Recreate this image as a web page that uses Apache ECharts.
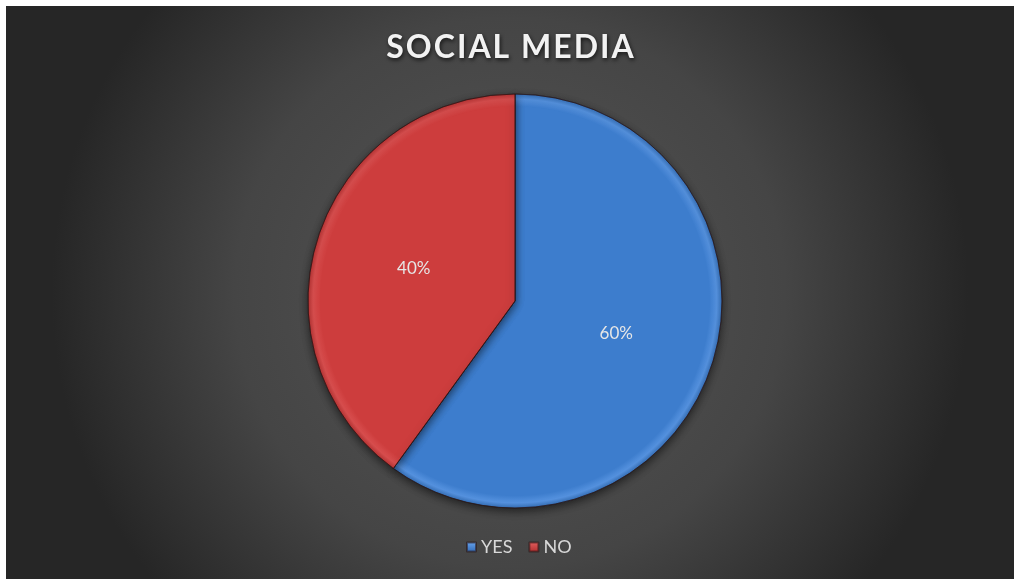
<!DOCTYPE html>
<html>
<head>
<meta charset="utf-8">
<script src="https://cdn.jsdelivr.net/npm/echarts@6/dist/echarts.min.js"></script>
<style>
  html, body { margin: 0; padding: 0; background: #ffffff; }
  #chart { position: absolute; left: 6px; top: 6px; width: 1008px; height: 573px; }
</style>
</head>
<body>
<div id="chart"></div>
<script>
// Survey answers: does the respondent use social media?
const categories = ['YES', 'NO'];
const shares = [60, 40];
const chartTitle = 'SOCIAL MEDIA';

// Pie geometry in canvas pixels (shared by the slices and their rim gradient)
const pieCenter = [509, 295];
const pieRadius = 207;

// Bevelled slice fill: flat body with a lighter rim and darker outer edge,
// laid out in global coordinates so every slice shares one ring
function bevel(body, rim, edge) {
  return {
    type: 'radial', global: true,
    x: pieCenter[0], y: pieCenter[1], r: pieRadius,
    colorStops: [
      { offset: 0, color: body },
      { offset: 0.94, color: body },
      { offset: 0.975, color: rim },
      { offset: 1, color: edge }
    ]
  };
}
const sliceColors = [
  bevel('#3d7dcd', '#5592df', '#3670b8'),
  bevel('#cd3d3d', '#d84e4e', '#b83434')
];
const iconColors = [
  { type: 'linear', x: 0, y: 0, x2: 0, y2: 1, colorStops: [{ offset: 0, color: '#6aa6f0' }, { offset: 1, color: '#2f68b4' }] },
  { type: 'linear', x: 0, y: 0, x2: 0, y2: 1, colorStops: [{ offset: 0, color: '#e56262' }, { offset: 1, color: '#b02c2c' }] }
];

const chart = echarts.init(document.getElementById('chart'), null, { renderer: 'canvas' });
chart.setOption({
  backgroundColor: {
    type: 'radial', x: 0.5, y: 0.5, r: 0.8,
    colorStops: [
      { offset: 0, color: '#565656' },
      { offset: 0.6, color: '#454545' },
      { offset: 1, color: '#262626' }
    ]
  },
  title: {
    text: chartTitle.split('').join('\u200a'),
    left: 'center',
    top: 21,
    textStyle: {
      fontFamily: 'Lato',
      fontWeight: 'bold',
      fontSize: 32,
      color: '#f2f2f2',
      textShadowColor: 'rgba(0,0,0,0.7)',
      textShadowBlur: 4,
      textShadowOffsetX: 1,
      textShadowOffsetY: 2
    }
  },
  legend: {
    bottom: 18,
    left: 455,
    itemWidth: 9,
    itemHeight: 9,
    itemGap: 16,
    icon: 'rect',
    textStyle: { fontFamily: 'Lato', fontSize: 18, color: '#d9d9d9' },
    data: categories.map((c, i) => ({ name: c, itemStyle: { color: iconColors[i] } }))
  },
  series: [{
    type: 'pie',
    center: pieCenter,
    radius: pieRadius,
    startAngle: 90,
    clockwise: true,
    silent: true,
    label: {
      show: true,
      position: 'inside',
      formatter: p => p.value + '%',
      fontFamily: 'Lato',
      fontSize: 17,
      color: '#e6e6e6'
    },
    labelLine: { show: false },
    itemStyle: {
      borderColor: 'rgba(40,20,20,0.55)',
      borderWidth: 1,
      shadowColor: 'rgba(0,0,0,0.55)',
      shadowBlur: 8,
      shadowOffsetY: 3
    },
    data: categories.map((c, i) => ({
      name: c,
      value: shares[i],
      itemStyle: { color: sliceColors[i] }
    }))
  }]
});
</script>
</body>
</html>
